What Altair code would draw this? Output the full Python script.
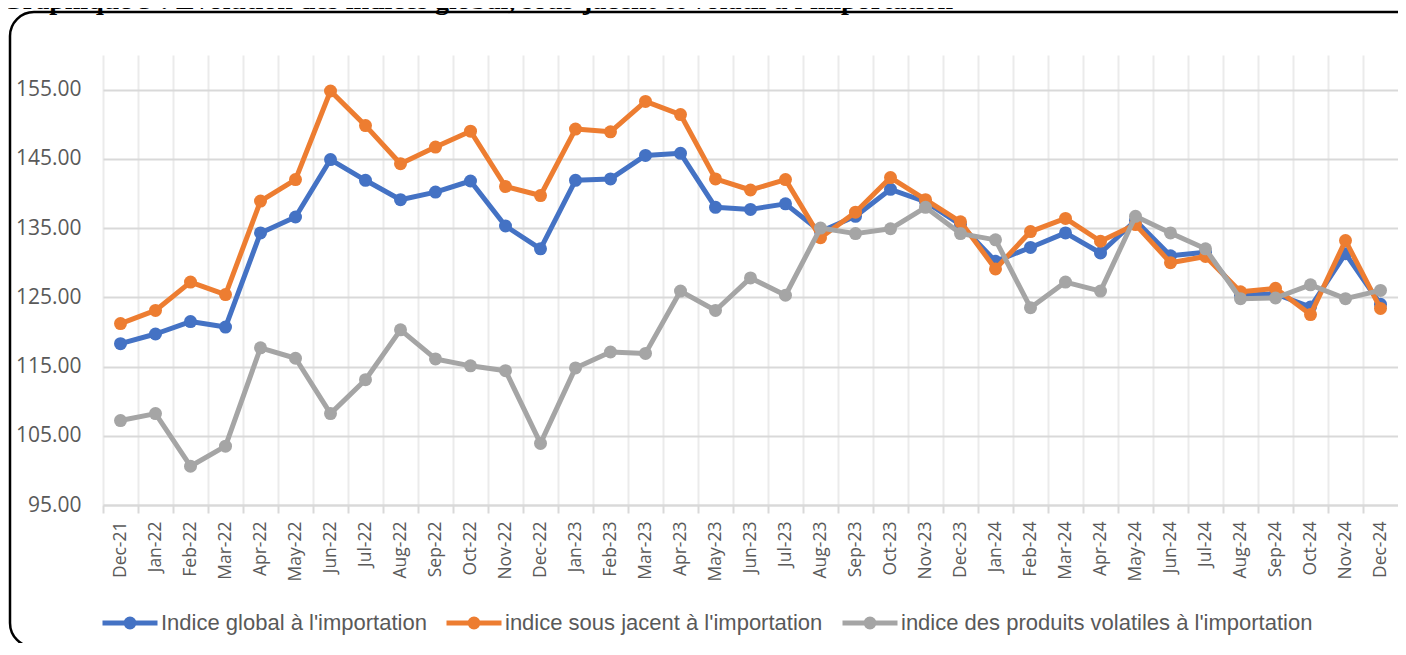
import altair as alt
import pandas as pd

TITLE = "Graphique 3 : Évolution des indices global, sous-jacent et volatil à l'importation"

months = ["Dec-21", "Jan-22", "Feb-22", "Mar-22", "Apr-22", "May-22", "Jun-22", "Jul-22",
          "Aug-22", "Sep-22", "Oct-22", "Nov-22", "Dec-22", "Jan-23", "Feb-23", "Mar-23",
          "Apr-23", "May-23", "Jun-23", "Jul-23", "Aug-23", "Sep-23", "Oct-23", "Nov-23",
          "Dec-23", "Jan-24", "Feb-24", "Mar-24", "Apr-24", "May-24", "Jun-24", "Jul-24",
          "Aug-24", "Sep-24", "Oct-24", "Nov-24", "Dec-24"]

series_names = ["Indice global à l'importation",
                "indice sous jacent à l'importation",
                "indice des produits volatiles à l'importation"]

global_idx = [118.3, 119.7, 121.5, 120.7, 134.3, 136.6, 144.9, 141.9, 139.1, 140.2, 141.8,
              135.3, 132.0, 141.9, 142.1, 145.5, 145.8, 138.0, 137.7, 138.5, 134.5, 136.7,
              140.6, 138.8, 135.5, 130.2, 132.2, 134.3, 131.4, 136.1, 131.0, 131.5, 125.3,
              125.5, 123.6, 131.3, 124.0]

underlying_idx = [121.2, 123.1, 127.2, 125.4, 138.9, 142.0, 154.8, 149.8, 144.3, 146.7, 149.0,
                  141.0, 139.7, 149.3, 148.9, 153.3, 151.4, 142.1, 140.5, 142.0, 133.6, 137.3,
                  142.3, 139.1, 135.9, 129.1, 134.5, 136.4, 133.1, 135.5, 130.0, 130.9, 125.8,
                  126.3, 122.5, 133.2, 123.4]

volatile_idx = [107.2, 108.2, 100.6, 103.5, 117.7, 116.2, 108.2, 113.1, 120.3, 116.1, 115.1,
                114.4, 103.9, 114.8, 117.1, 116.9, 125.9, 123.1, 127.8, 125.3, 135.0, 134.2,
                134.9, 138.0, 134.2, 133.3, 123.5, 127.2, 125.9, 136.7, 134.3, 132.0, 124.8,
                124.9, 126.8, 124.8, 126.0]

y_ticks = [95, 105, 115, 125, 135, 145, 155]
colors = ["#4472C4", "#ED7D31", "#A5A5A5"]

rows = []
for name, vals in zip(series_names, [global_idx, underlying_idx, volatile_idx]):
    for m, v in zip(months, vals):
        rows.append({"mois": m, "serie": name, "valeur": v})
df = pd.DataFrame(rows)

W, H = 1295, 450
TXT = "#595959"

# legend symbol: a line with a filled dot (rings drawn with thick stroke)
r1, r2 = 4 / 27.5, 1.5 / 27.5
SYM = (f"M-1,0L1,0"
       f"M{r1},0A{r1},{r1},0,1,1,{-r1},0A{r1},{r1},0,1,1,{r1},0"
       f"M{r2},0A{r2},{r2},0,1,1,{-r2},0A{r2},{r2},0,1,1,{r2},0")

color_scale = alt.Scale(domain=series_names, range=colors)
legend = alt.Legend(
    orient="none", legendX=-3, legendY=538, direction="horizontal", columns=3,
    title=None, symbolType=SYM, symbolSize=55 * 55, symbolStrokeWidth=5,
    labelFont="Liberation Sans", labelFontSize=22,
    labelColor=TXT, labelOffset=1, columnPadding=9, labelLimit=600, padding=0,
)

x_enc = alt.X(
    "mois:N", sort=months, title=None, bandPosition=0.5,
    scale=alt.Scale(type="band", paddingInner=0, paddingOuter=0),
    axis=alt.Axis(
        bandPosition=0, labelAngle=270,
        labelFont="Open Sans", labelFontSize=17.5, labelColor=TXT, labelPadding=8,
        ticks=True, tickSize=8, tickColor="#D9D9D9", tickWidth=2,
        domain=True, domainColor="#D9D9D9", domainWidth=2,
        grid=True, gridColor="#EBEBEB", gridWidth=2,
    ),
)
y_enc = alt.Y(
    "valeur:Q", title=None,
    scale=alt.Scale(domain=[95, 160], nice=False, zero=False),
    axis=alt.Axis(
        values=y_ticks, format=".2f", labelFont="Open Sans", labelFontSize=21,
        labelColor=TXT, labelPadding=22, ticks=False, domain=False,
        grid=True, gridColor="#D9D9D9", gridWidth=2,
    ),
)

border = alt.Chart(pd.DataFrame({"k": [0]})).mark_rect(
    fillOpacity=0, stroke="black", strokeWidth=2.5, cornerRadius=24
).encode(
    x=alt.value(-93), x2=alt.value(W + 40), y=alt.value(-43), y2=alt.value(592)
)

title = alt.Chart(pd.DataFrame({"t": [TITLE]})).mark_text(
    font="Liberation Serif", fontSize=28, fontWeight="bold", color="black",
    align="left", baseline="alphabetic"
).encode(text="t:N", x=alt.value(-102), y=alt.value(-46))

layers = [border, title]
for name in series_names:
    base = alt.Chart(df).transform_filter(alt.datum.serie == name)
    layers.append(
        base.mark_line(strokeWidth=5, strokeJoin="round", strokeCap="round").encode(
            x=x_enc, y=y_enc,
            color=alt.Color("serie:N", scale=color_scale, legend=legend),
        )
    )
    layers.append(
        base.mark_circle(size=169, opacity=1).encode(
            x=x_enc, y=y_enc,
            color=alt.Color("serie:N", scale=color_scale, legend=legend),
        )
    )

chart = alt.layer(*layers).properties(
    width=W, height=H,
    autosize=alt.AutoSizeParams(type="none"),
    padding={"left": 95, "top": 47, "right": 0, "bottom": 138},
    background="white",
).configure_view(stroke=None)

chart.save("out.html", embed_options={"renderer": "svg", "actions": False})
